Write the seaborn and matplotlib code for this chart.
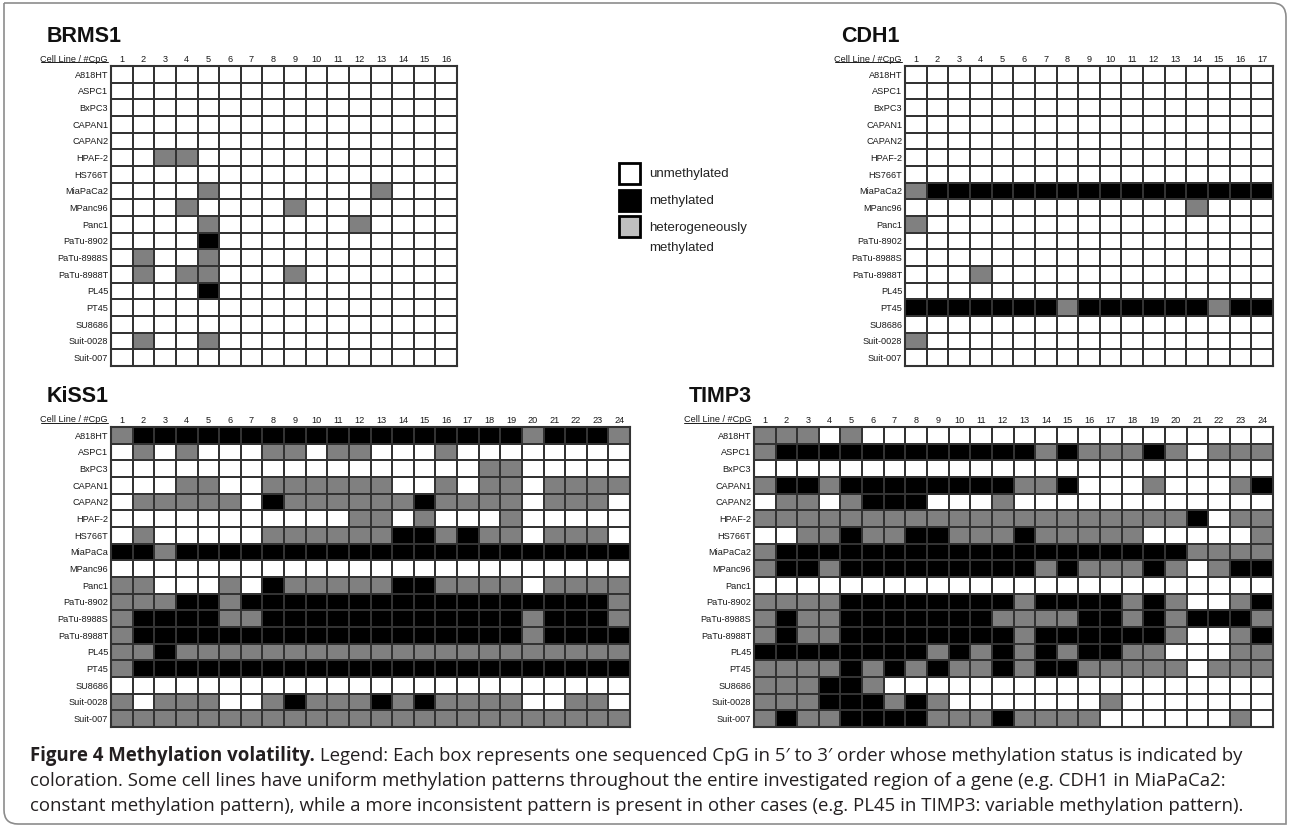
import matplotlib.pyplot as plt
import numpy as np
import pandas as pd
import seaborn as sns
from matplotlib.colors import ListedColormap
from matplotlib.patches import Rectangle, PathPatch
from matplotlib.path import Path
from matplotlib.lines import Line2D
from matplotlib.transforms import Affine2D

# 0 = unmethylated, 1 = methylated, 2 = heterogeneously methylated
cell_lines = ['A818HT', 'ASPC1', 'BxPC3', 'CAPAN1', 'CAPAN2', 'HPAF-2', 'HS766T',
              'MiaPaCa2', 'MPanc96', 'Panc1', 'PaTu-8902', 'PaTu-8988S', 'PaTu-8988T',
              'PL45', 'PT45', 'SU8686', 'Suit-0028', 'Suit-007']
kiss1_lines = cell_lines[:7] + ['MiaPaCa'] + cell_lines[8:]

brms1 = ['0000 0000 0000 0000',
         '0000 0000 0000 0000',
         '0000 0000 0000 0000',
         '0000 0000 0000 0000',
         '0000 0000 0000 0000',
         '0022 0000 0000 0000',
         '0000 0000 0000 0000',
         '0000 2000 0000 2000',
         '0002 0000 2000 0000',
         '0000 2000 0002 0000',
         '0000 1000 0000 0000',
         '0200 2000 0000 0000',
         '0202 2000 2000 0000',
         '0000 1000 0000 0000',
         '0000 0000 0000 0000',
         '0000 0000 0000 0000',
         '0200 2000 0000 0000',
         '0000 0000 0000 0000']

cdh1 = ['0000 0000 0000 0000 0',
        '0000 0000 0000 0000 0',
        '0000 0000 0000 0000 0',
        '0000 0000 0000 0000 0',
        '0000 0000 0000 0000 0',
        '0000 0000 0000 0000 0',
        '0000 0000 0000 0000 0',
        '2111 1111 1111 1111 1',
        '0000 0000 0000 0200 0',
        '2000 0000 0000 0000 0',
        '0000 0000 0000 0000 0',
        '0000 0000 0000 0000 0',
        '0002 0000 0000 0000 0',
        '0000 0000 0000 0000 0',
        '1111 1112 1111 1121 1',
        '0000 0000 0000 0000 0',
        '2000 0000 0000 0000 0',
        '0000 0000 0000 0000 0']

kiss1 = ['2111 1111 1111 1111 1112 1112',
         '0202 0002 2022 0002 0000 0000',
         '0000 0000 0000 0000 0220 0000',
         '0002 2002 2222 2002 0220 2222',
         '0222 2201 2222 2212 2220 2220',
         '0000 0000 0002 2020 0020 0000',
         '0200 0002 2222 2112 1220 2220',
         '1121 1111 1111 1111 1111 1111',
         '0000 0000 0000 0000 0000 0000',
         '2200 0201 2222 2112 2220 2222',
         '2221 1211 1111 1111 1111 1112',
         '2111 1221 1111 1111 1112 1112',
         '2111 1111 1111 1111 1112 1111',
         '2212 2222 2222 2222 2222 2222',
         '2111 1111 1111 1111 1111 1111',
         '0000 0000 0000 0000 0000 0000',
         '2022 2002 1222 1212 2220 0220',
         '2222 2222 2222 2222 2222 2222']

timp3 = ['2220 2000 0000 0000 0000 0000',
         '2111 1111 1111 1212 2212 0222',
         '0000 0000 0000 0000 0000 0000',
         '2112 1111 1111 2210 0020 0021',
         '0220 2111 0002 0000 0000 0000',
         '2222 2222 2222 2222 2222 1022',
         '0022 1221 1222 1222 2200 0002',
         '2111 1111 1111 1111 1111 2222',
         '2112 1111 1111 1212 2212 0211',
         '0000 0000 0000 0000 0000 0000',
         '2222 1111 1111 2111 1212 0021',
         '2122 1111 1112 2221 1212 1112',
         '2122 1111 1111 2111 1112 0021',
         '1111 1111 2121 2121 1220 0022',
         '2222 1212 1221 2112 2222 0222',
         '2221 1200 0000 0000 0000 0000',
         '2221 1121 2000 0000 2000 0000',
         '2122 1111 2221 2222 0000 0020']

legend_labels = ['unmethylated', 'methylated', 'heterogeneously\nmethylated']

caption_bold = 'Figure 4 Methylation volatility.'
caption_lines = [' Legend: Each box represents one sequenced CpG in 5\u2032 to 3\u2032 order whose methylation status is indicated by',
                 'coloration. Some cell lines have uniform methylation patterns throughout the entire investigated region of a gene (e.g. CDH1 in MiaPaCa2:',
                 'constant methylation pattern), while a more inconsistent pattern is present in other cases (e.g. PL45 in TIMP3: variable methylation pattern).']

sns.set_style('white')
plt.rcParams['font.family'] = ['Liberation Sans', 'DejaVu Sans']

W, H = 1290, 829
fig = plt.figure(figsize=(W / 100, H / 100), dpi=100)
px = Affine2D().scale(1 / W, 1 / H) + fig.transFigure

cmap = ListedColormap(['white', 'black', '#808080'])
grid_col = '#333333'
headers = []


def draw_panel(gene, rows, labels, box, title_x):
    x0, y0, x1, y1 = box
    data = np.array([[int(c) for c in r.replace(' ', '')] for r in rows])
    df = pd.DataFrame(data, index=labels, columns=range(1, data.shape[1] + 1))
    ax = fig.add_axes([x0 / W, 1 - y1 / H, (x1 - x0) / W, (y1 - y0) / H])
    sns.heatmap(df, ax=ax, cmap=cmap, vmin=-0.5, vmax=2.5, cbar=False,
                linewidths=1.3, linecolor=grid_col)
    ax.xaxis.tick_top()
    ax.set_xticklabels(df.columns, rotation=0)
    ax.set_yticklabels(labels, rotation=0)
    ax.tick_params(length=0, pad=2, labelsize=6.6, colors='#1a1a1a')
    ax.set_xlabel('')
    ax.set_ylabel('')
    for s in ax.spines.values():
        s.set_visible(True)
        s.set_color(grid_col)
        s.set_linewidth(1.5)
    t = fig.text(x0 - 3, H - y0 + 8, 'Cell Line / #CpG', transform=px,
                 ha='right', va='center', fontsize=6.6, color='#1a1a1a')
    headers.append(t)
    fig.text(title_x, H - y0 + 31, gene, transform=px, ha='left', va='center',
             fontsize=15.5, fontweight='bold', color='#111111')


draw_panel('BRMS1', brms1, cell_lines, (111, 67, 457, 367), 47)
draw_panel('CDH1', cdh1, cell_lines, (905, 67, 1273, 367), 841)
draw_panel('KiSS1', kiss1, kiss1_lines, (111, 428, 630, 728), 47)
draw_panel('TIMP3', timp3, cell_lines, (754, 428, 1273, 728), 689)

# legend
leg_cols = ['white', 'black', '#c0c0c0']
for i, (lab, c) in enumerate(zip(legend_labels, leg_cols)):
    top = 164 + i * 26.5
    fig.add_artist(Rectangle((619, H - top - 21), 21, 21, transform=px,
                             facecolor=c, edgecolor='black', lw=2))
    for j, part in enumerate(lab.split('\n')):
        fig.text(649, H - top - 10.5 - j * 20.5, part, transform=px, ha='left',
                 va='center', fontsize=9.5, color='#222222')

# caption
cap_font = ['Open Sans', 'DejaVu Sans']
cap_size = 13.4
cap_y = [756, 781, 806]
b = fig.text(30, H - cap_y[0], caption_bold, transform=px, fontsize=cap_size,
             fontweight='bold', family=cap_font, color='#231f20', va='center')
fig.canvas.draw()
bb = b.get_window_extent()
fig.text(bb.x1, H - cap_y[0], caption_lines[0], transform=px, fontsize=cap_size,
         family=cap_font, color='#231f20', va='center')
for y, line in zip(cap_y[1:], caption_lines[1:]):
    fig.text(30, H - y, line, transform=px, fontsize=cap_size, family=cap_font,
             color='#231f20', va='center')

# underline the table headers
for t in headers:
    e = t.get_window_extent()
    fig.add_artist(Line2D([e.x0, e.x1], [e.y0 + 0.5, e.y0 + 0.5], transform=px,
                          color='#1a1a1a', lw=0.7))

# frame with two rounded corners
r = 14
L, R, T, B = 4, W - 4, H - 4, 4
verts = [(L, T), (R - r, T), (R, T), (R, T - r), (R, B), (L + r, B), (L, B), (L, B + r), (L, T)]
codes = [Path.MOVETO, Path.LINETO, Path.CURVE3, Path.CURVE3, Path.LINETO,
         Path.LINETO, Path.CURVE3, Path.CURVE3, Path.LINETO]
fig.add_artist(PathPatch(Path(verts, codes), transform=px, fill=False,
                         edgecolor='#8c8c8c', lw=1.2))

fig.savefig('out.png', dpi=100)
